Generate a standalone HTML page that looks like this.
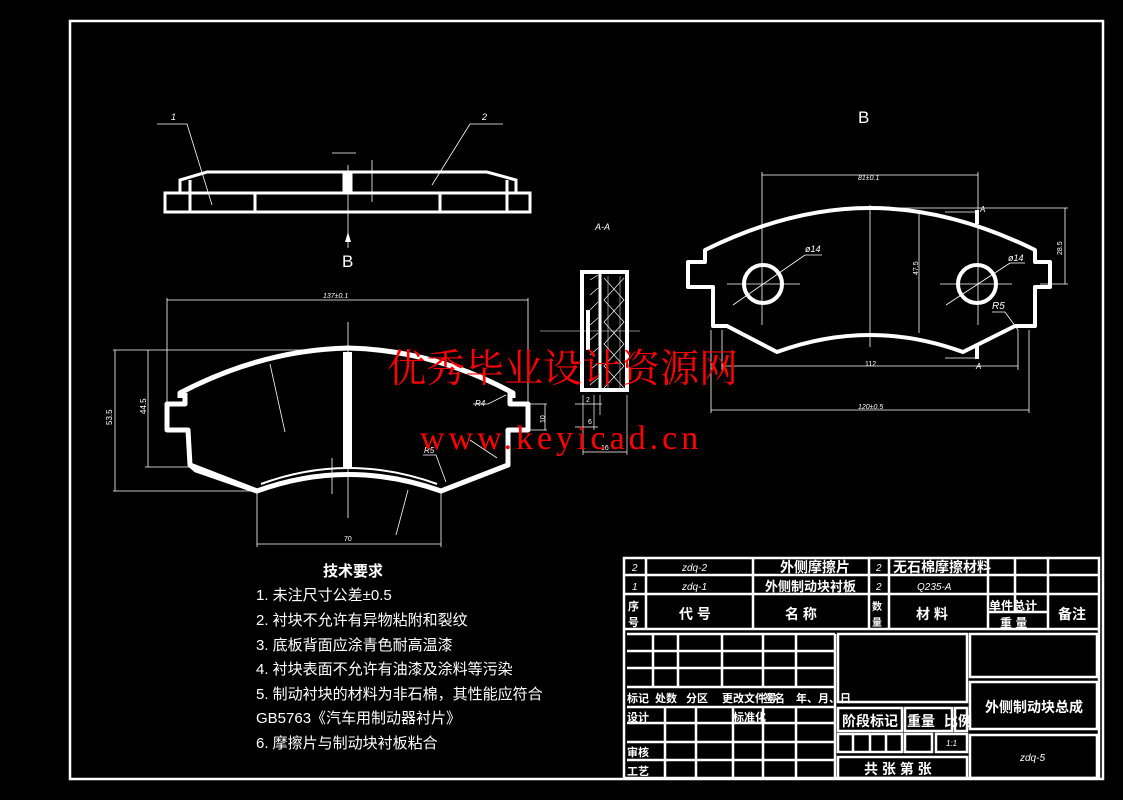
<!DOCTYPE html>
<html><head><meta charset="utf-8"><style>
html,body{margin:0;padding:0;background:#000;}
svg{display:block}
text{font-family:"Liberation Sans","Noto Sans CJK SC",sans-serif;fill:#fff}
</style></head><body>
<svg width="1123" height="800" viewBox="0 0 1123 800" xmlns="http://www.w3.org/2000/svg">
<rect width="1123" height="800" fill="#000"/>
<rect x="70" y="21" width="1033" height="758" fill="none" stroke="#fff" stroke-width="2.5"/>

<!-- top side view -->
<g fill="none" stroke="#fff" stroke-width="3">
<rect x="165" y="193" width="365" height="19"/>
<line x1="190" y1="193" x2="190" y2="212"/><line x1="255" y1="193" x2="255" y2="212"/>
<line x1="440" y1="193" x2="440" y2="212"/><line x1="507" y1="193" x2="507" y2="212"/>
<polyline points="180,193 180,180 207,172 487,172 516,180 516,193"/>
<line x1="190" y1="180" x2="190" y2="193"/><line x1="507" y1="180" x2="507" y2="193"/>
<rect x="344" y="172" width="7" height="20" fill="#fff"/>
</g>
<g stroke="#fff" stroke-width="0.8" fill="none">
<polyline points="157,124 187,124 212,205"/><polyline points="503,124 470,124 432,185"/>
<line x1="348" y1="165" x2="348" y2="248"/>
<line x1="332" y1="153" x2="356" y2="153"/><line x1="372" y1="160" x2="372" y2="202"/>
</g>
<text x="171" y="120" font-size="9" font-style="italic">1</text>
<text x="482" y="120" font-size="9" font-style="italic">2</text>
<polygon points="348,232 345,242 351,242" fill="#fff"/>
<text x="342" y="267" font-size="17">B</text>

<!-- front view -->
<g fill="none" stroke="#fff" stroke-width="5" stroke-linejoin="round">
<path d="M180,398 L180,393 Q262,350 348,348 Q434,350 513,393 L513,398"/>
<path d="M185,393 L185,404 L167,404 L167,430 L188,430 L190,465 L257,491 Q348,458 441,491 L508,465 L508,430 L528,430 L528,404 L510,404 L510,393"/>
<path d="M190,465 L196,470 L257,491"/>
</g>
<rect x="343" y="352" width="9" height="116" fill="#fff"/>
<path d="M261,484 Q348,452 437,484" stroke="#fff" stroke-width="2" fill="none"/>
<g stroke="#fff" stroke-width="0.8" fill="none">
<line x1="167" y1="300" x2="528" y2="300"/><line x1="167" y1="298" x2="167" y2="402"/><line x1="528" y1="298" x2="528" y2="402"/>
<line x1="113" y1="350" x2="330" y2="350"/><line x1="113" y1="491" x2="257" y2="491"/>
<line x1="115" y1="350" x2="115" y2="491"/><line x1="148" y1="350" x2="148" y2="467"/><line x1="145" y1="467" x2="190" y2="467"/>
<line x1="348" y1="322" x2="348" y2="518"/>
<line x1="257" y1="491" x2="257" y2="547"/><line x1="441" y1="491" x2="441" y2="547"/><line x1="257" y1="544" x2="441" y2="544"/>
<line x1="270" y1="364" x2="285" y2="432"/><line x1="408" y1="490" x2="396" y2="535"/>
<line x1="530" y1="404" x2="547" y2="404"/><line x1="530" y1="430" x2="547" y2="430"/><line x1="545" y1="404" x2="545" y2="430"/>
<polyline points="473,404 488,404 506,395"/><polyline points="423,455 436,455 446,482"/><line x1="470" y1="440" x2="497" y2="458"/>
<line x1="332" y1="458" x2="332" y2="494"/>
</g>
<text x="323" y="298" font-size="7" font-style="italic">137±0.1</text>
<text x="112" y="425" font-size="8" transform="rotate(-90 112 425)">53.5</text>
<text x="146" y="414" font-size="8" transform="rotate(-90 146 414)">44.5</text>
<text x="344" y="541" font-size="7">70</text>
<text x="475" y="406" font-size="8" font-style="italic">R4</text>
<text x="424" y="453" font-size="8" font-style="italic">R5</text>
<text x="536" y="422" font-size="7" transform="rotate(-90 541 418)">10</text>

<!-- section A-A -->
<text x="595" y="230" font-size="9" font-style="italic">A-A</text>
<g fill="none" stroke="#fff">
<rect x="582" y="272" width="45" height="118" stroke-width="4"/>
<line x1="600" y1="272" x2="600" y2="390" stroke-width="3"/>
<rect x="586" y="310" width="4" height="40" fill="#fff" stroke="none"/>
<path d="M590,280 L598,275 M590,295 L598,288 M590,310 L598,302 M590,325 L598,318 M590,340 L598,333 M590,355 L598,348 M590,370 L598,363 M590,385 L598,378" stroke-width="0.7"/>
<path d="M604,278 L624,300 L604,322 L624,344 L604,366 L624,388 M624,278 L604,300 L624,322 L604,344 L624,366 L604,388" stroke-width="0.7"/>
<line x1="608" y1="276" x2="608" y2="388" stroke-width="0.5"/><line x1="620" y1="276" x2="620" y2="388" stroke-width="0.5"/>
<g stroke-width="0.7"><line x1="583" y1="395" x2="583" y2="455"/><line x1="594" y1="395" x2="594" y2="430"/><line x1="600" y1="395" x2="600" y2="415"/><line x1="627" y1="395" x2="627" y2="455"/>
<line x1="575" y1="404" x2="602" y2="404"/><line x1="575" y1="427" x2="598" y2="427"/><line x1="583" y1="452" x2="627" y2="452"/></g>
</g>
<line x1="540" y1="331" x2="640" y2="331" stroke="#fff" stroke-width="0.5"/>
<text x="586" y="402" font-size="7">2</text><text x="588" y="424" font-size="7">6</text><text x="601" y="450" font-size="7">16</text>

<!-- view B -->
<text x="858" y="123" font-size="17">B</text>
<g fill="none" stroke="#fff" stroke-width="4" stroke-linejoin="round">
<path d="M705,250 Q790,208 870,208 Q950,208 1035,250 L1035,262 L1050,262 L1050,287 L1035,287 L1035,326 L1015,326 L963,352 Q870,318 777,352 L727,326 L713,326 L713,287 L688,287 L688,262 L705,262 Z"/>
<circle cx="763" cy="284" r="19"/><circle cx="977" cy="284" r="19"/>
</g>
<rect x="975" y="345" width="4" height="14" fill="#fff"/><rect x="975" y="210" width="4" height="14" fill="#fff"/>
<g stroke="#fff" stroke-width="0.8" fill="none">
<line x1="762" y1="175" x2="978" y2="175"/><line x1="762" y1="172" x2="762" y2="325"/><line x1="978" y1="172" x2="978" y2="325"/>
<line x1="870" y1="205" x2="870" y2="347"/><line x1="727" y1="284" x2="800" y2="284"/><line x1="940" y1="284" x2="1012" y2="284"/>
<line x1="733" y1="305" x2="805" y2="255"/><line x1="805" y1="255" x2="822" y2="255"/><line x1="946" y1="305" x2="1010" y2="263"/><line x1="1010" y1="263" x2="1025" y2="263"/>
<line x1="919" y1="210" x2="919" y2="333"/><line x1="880" y1="208" x2="1068" y2="208"/><line x1="1065" y1="208" x2="1065" y2="284"/><line x1="1040" y1="284" x2="1068" y2="284"/>
<line x1="722" y1="366" x2="1018" y2="366"/><line x1="722" y1="330" x2="722" y2="370"/><line x1="1018" y1="330" x2="1018" y2="370"/>
<line x1="711" y1="410" x2="1029" y2="410"/><line x1="711" y1="330" x2="711" y2="413"/><line x1="1029" y1="330" x2="1029" y2="413"/>
<line x1="945" y1="212" x2="975" y2="212"/><line x1="945" y1="358" x2="975" y2="358"/>
<polyline points="992,312 1005,312 1018,330"/>
</g>
<text x="858" y="180" font-size="7" font-style="italic">81±0.1</text>
<text x="805" y="252" font-size="9" font-style="italic">ø14</text>
<text x="1008" y="261" font-size="9" font-style="italic">ø14</text>
<text x="918" y="275" font-size="7" transform="rotate(-90 918 275)">47.5</text>
<text x="1062" y="255" font-size="7" transform="rotate(-90 1062 255)">28.5</text>
<text x="992" y="309" font-size="10" font-style="italic">R5</text>
<text x="865" y="366" font-size="7">112</text>
<text x="858" y="409" font-size="7" font-style="italic">120±0.5</text>
<text x="980" y="212" font-size="8" font-style="italic">A</text><text x="976" y="369" font-size="8" font-style="italic">A</text>

<!-- tech requirements -->
<g font-size="15">
<text x="323" y="576" font-weight="bold">技术要求</text>
<text x="256" y="600">1. 未注尺寸公差±0.5</text>
<text x="256" y="625">2. 衬块不允许有异物粘附和裂纹</text>
<text x="256" y="650">3. 底板背面应涂青色耐高温漆</text>
<text x="256" y="674">4. 衬块表面不允许有油漆及涂料等污染</text>
<text x="256" y="699">5. 制动衬块的材料为非石棉，其性能应符合</text>
<text x="256" y="723">GB5763《汽车用制动器衬片》</text>
<text x="256" y="748">6. 摩擦片与制动块衬板粘合</text>
</g>

<!-- title block -->
<g stroke="#fff" stroke-width="2.5" fill="none">
<rect x="624" y="558" width="475" height="220"/>
<line x1="624" y1="575" x2="1099" y2="575"/><line x1="624" y1="594" x2="1099" y2="594"/><line x1="624" y1="629" x2="1099" y2="629"/>
<line x1="646" y1="558" x2="646" y2="629"/><line x1="753" y1="558" x2="753" y2="629"/><line x1="869" y1="558" x2="869" y2="629"/>
<line x1="889" y1="558" x2="889" y2="629"/><line x1="988" y1="558" x2="988" y2="629"/><line x1="1015" y1="558" x2="1015" y2="594"/><line x1="1048" y1="558" x2="1048" y2="629"/>
<line x1="988" y1="612" x2="1048" y2="612"/><line x1="1015" y1="594" x2="1015" y2="612"/>
<line x1="627" y1="634" x2="835" y2="634"/><line x1="627" y1="651" x2="835" y2="651"/><line x1="627" y1="668" x2="835" y2="668"/><line x1="627" y1="687" x2="835" y2="687"/>
<line x1="627" y1="707" x2="835" y2="707"/><line x1="627" y1="723" x2="835" y2="723"/><line x1="627" y1="742" x2="835" y2="742"/><line x1="627" y1="760" x2="835" y2="760"/>
<line x1="653" y1="634" x2="653" y2="687"/><line x1="678" y1="634" x2="678" y2="687"/><line x1="722" y1="634" x2="722" y2="687"/><line x1="763" y1="634" x2="763" y2="687"/><line x1="796" y1="634" x2="796" y2="687"/>
<line x1="665" y1="707" x2="665" y2="778"/><line x1="696" y1="707" x2="696" y2="778"/><line x1="733" y1="707" x2="733" y2="778"/><line x1="763" y1="707" x2="763" y2="778"/><line x1="796" y1="707" x2="796" y2="778"/>
<line x1="835" y1="634" x2="835" y2="778"/>
<rect x="838" y="634" width="129" height="68"/>
<rect x="838" y="708" width="64" height="23"/><rect x="905" y="708" width="47" height="23"/><rect x="955" y="708" width="12" height="23"/>
<rect x="838" y="734" width="64" height="18"/><line x1="853" y1="734" x2="853" y2="752"/><line x1="870" y1="734" x2="870" y2="752"/><line x1="886" y1="734" x2="886" y2="752"/>
<rect x="905" y="734" width="27" height="18"/><rect x="936" y="734" width="31" height="18"/>
<rect x="838" y="757" width="129" height="21"/>
<rect x="970" y="634" width="127" height="43"/><rect x="970" y="682" width="127" height="47"/><rect x="970" y="735" width="127" height="43"/>
</g>
<g font-size="10" font-style="italic">
<text x="632" y="571">2</text><text x="682" y="571">zdq-2</text><text x="876" y="571">2</text>
<text x="632" y="590">1</text><text x="682" y="590">zdq-1</text><text x="876" y="590">2</text><text x="917" y="590">Q235-A</text>
<text x="946" y="746" font-size="8">1:1</text><text x="1020" y="761">zdq-5</text>
</g>
<g font-size="14" font-weight="bold">
<text x="780" y="572">外侧摩擦片</text><text x="893" y="572">无石棉摩擦材料</text>
<text x="765" y="591" font-size="13">外侧制动块衬板</text>
<text x="679" y="619">代  号</text><text x="785" y="619">名  称</text><text x="916" y="619">材  料</text><text x="1058" y="619">备注</text>
<text x="989" y="610" font-size="12">单件总计</text><text x="1000" y="627" font-size="12">重  量</text>
<text x="628" y="610" font-size="11">序</text><text x="628" y="626" font-size="11">号</text>
<text x="872" y="610" font-size="10">数</text><text x="872" y="626" font-size="10">量</text>
<text x="842" y="726">阶段标记</text><text x="907" y="726">重量</text><text x="944" y="726">比例</text>
<text x="864" y="774">共 张 第 张</text><text x="985" y="712">外侧制动块总成</text>
<g font-size="11"><text x="627" y="702">标记</text><text x="655" y="702">处数</text><text x="686" y="702">分区</text><text x="722" y="702">更改文件号</text><text x="763" y="702">签名</text><text x="796" y="702">年、月、日</text>
<text x="627" y="721">设计</text><text x="733" y="721">标准化</text><text x="627" y="756">审核</text><text x="627" y="775">工艺</text></g>
</g>

<!-- watermark -->
<text x="387" y="382" font-size="39" style="font-family:'Liberation Serif','Noto Serif CJK SC',serif;fill:#f00">优秀毕业设计资源网</text>
<text x="420" y="449" font-size="34" letter-spacing="4" style="font-family:'Liberation Serif',serif;fill:#f00">www.keyicad.cn</text>
</svg>
</body></html>
